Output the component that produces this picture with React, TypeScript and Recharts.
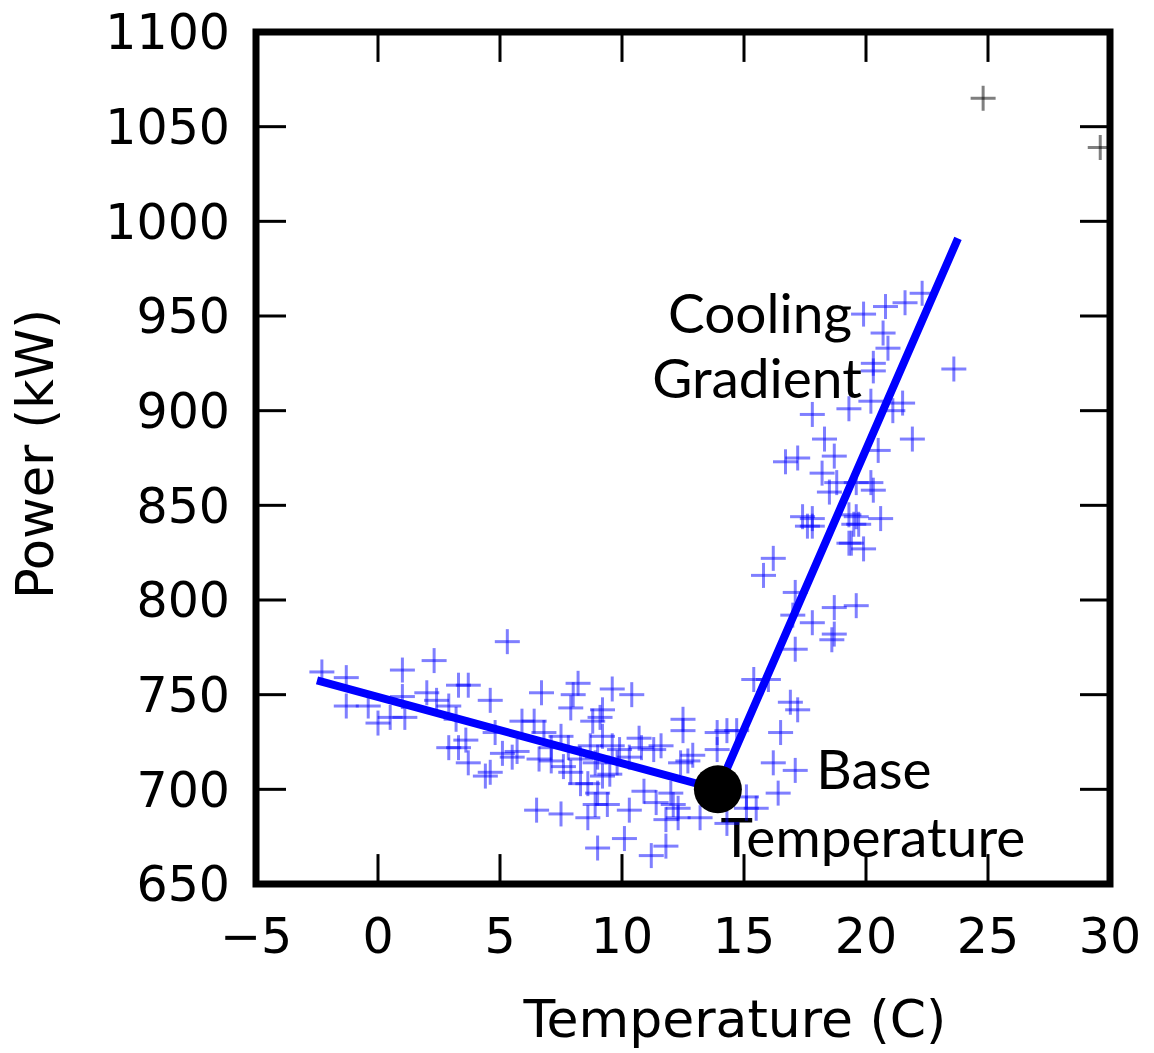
import {
  ScatterChart,
  Scatter,
  XAxis,
  YAxis,
  ReferenceArea,
  ReferenceLine,
  Customized,
} from "recharts";

// temperature (C), power (kW)
const bluePoints: [number, number][] = [
  [-2.3, 762], [-1.3, 759], [-1.3, 744], [-0.4, 744], [0, 735], [0.5, 738],
  [1, 763], [1, 749], [1.1, 738], [2.3, 768], [2.0, 751], [2.4, 747],
  [3.3, 755], [3.7, 755], [2.9, 744], [3.2, 737], [4.6, 747], [2.9, 722],
  [3.3, 722], [3.6, 726], [3.7, 714], [4.4, 707], [4.6, 709], [4.8, 730],
  [5.1, 719], [5.3, 778],
  [6.7, 751], [8.2, 756], [8.0, 750], [7.9, 743], [9.6, 753], [10.4, 750],
  [5.7, 720], [5.9, 736], [6.4, 736], [5.5, 717], [6.8, 730], [7.1, 722],
  [7.5, 728], [7.8, 722], [7.9, 709], [8.3, 716], [8.8, 736], [9.1, 738],
  [9.2, 742], [8.7, 723], [9.2, 728], [9.6, 723], [8.9, 714], [9.2, 707],
  [9.5, 708], [8.6, 703], [8.9, 692], [9.4, 692], [9.0, 698], [10.3, 689],
  [6.5, 689], [7.5, 687], [8.6, 685], [9.0, 669], [10.1, 674], [11.2, 665],
  [11.8, 670], [10.9, 699], [10.8, 722], [11.3, 721], [11.6, 723], [10.7, 727],
  [9.9, 721], [10.3, 717], [12.4, 714], [12.7, 715], [12.5, 737], [12.5, 731],
  [12.9, 718], [12.0, 698], [12.1, 692], [12.3, 690], [11.8, 684], [12.3, 685],
  [13.2, 685], [11.4, 693], [13.9, 730], [14.3, 731], [14.7, 731], [13.9, 721],
  [14.3, 682], [6.6, 716], [7.1, 715], [7.6, 712], [8.3, 703], [9.0, 717],
  [9.8, 714],
  [16.2, 822], [15.8, 813], [17.1, 804], [17.0, 792], [17.8, 788], [18.7, 796],
  [19.6, 797], [18.7, 782], [18.6, 779], [17.1, 774], [15.4, 758], [16.0, 758],
  [16.9, 746], [17.2, 742], [16.5, 730], [16.2, 714], [17.1, 710], [16.4, 698],
  [15.1, 696], [15.5, 690], [15.1, 690], [19.3, 830], [19.9, 827], [17.6, 839],
  [17.8, 839], [19.7, 840],
  [22.3, 962], [21.6, 957], [20.8, 955], [19.9, 951], [20.7, 941], [20.9, 933],
  [20.3, 925], [20.3, 921], [23.6, 922], [20.2, 905], [21.5, 904], [21.1, 900],
  [19.3, 901], [17.8, 898], [21.9, 885], [18.3, 885], [18.7, 876], [20.5, 879],
  [17.2, 875], [16.7, 873], [18.2, 867], [18.8, 862], [19.6, 862], [20.2, 862],
  [18.5, 857], [20.3, 858], [17.4, 844], [17.8, 843], [19.6, 844], [20.6, 843],
  [19.5, 840], [19.4, 830], [19.3, 845],
];

const greyPoints: [number, number][] = [
  [24.8, 1065],
  [29.6, 1039],
];

// fitted change-point model
const fitLine: [number, number][] = [
  [-2.5, 757.5],
  [13.93, 700],
  [23.77, 991],
];
const baseTemp: [number, number][] = [[13.93, 700]];

const xTicks = [-5, 0, 5, 10, 15, 20, 25, 30];
const yTicks = [650, 700, 750, 800, 850, 900, 950, 1000, 1050, 1100];

const X_MIN = -5;
const X_MAX = 30;
const Y_MIN = 650;
const Y_MAX = 1100;

// inward tick length (~30px) in data units
const xTickLen = 1.23;
const yTickLen = 15.8;

const toXY = (pts: [number, number][]) => pts.map(([x, y]) => ({ x, y }));

const tickFont = { fill: "#000", fontSize: 49, fontFamily: "DejaVu Sans" };
const annoFont = { fontSize: 55, fontFamily: "Lato", fill: "#000" };

const fmt = (v: number) => (v < 0 ? `\u2212${-v}` : `${v}`);

const Plus = ({ cx, cy, color }: any) => (
  <g stroke={color} strokeWidth={3} strokeOpacity={0.5}>
    <line x1={cx - 12.5} y1={cy} x2={cx + 12.5} y2={cy} />
    <line x1={cx} y1={cy - 12.5} x2={cx} y2={cy + 12.5} />
  </g>
);

const Labels = () => (
  <g>
    <text x={760} y={333} textAnchor="middle" {...annoFont}>Cooling</text>
    <text x={757} y={398} textAnchor="middle" {...annoFont}>Gradient</text>
    <text x={874} y={789} textAnchor="middle" {...annoFont}>Base</text>
    <text x={873} y={857} textAnchor="middle" {...annoFont}>Temperature</text>
    <text x={735} y={1037} textAnchor="middle" fontSize={52} fontFamily="DejaVu Sans">
      Temperature (C)
    </text>
    <text
      x={53}
      y={454}
      textAnchor="middle"
      fontSize={51}
      fontFamily="DejaVu Sans"
      transform="rotate(-90 53 454)"
    >
      Power (kW)
    </text>
  </g>
);

const tickStyle = { stroke: "#000", strokeWidth: 3 };

export default function App() {
  return (
    <div style={{ position: "absolute", left: 0, top: 0, background: "#fff" }}>
      <ScatterChart
        width={1154}
        height={1053}
        margin={{ top: 32, right: 44, bottom: 0, left: 0 }}
      >
        <XAxis
          type="number"
          dataKey="x"
          domain={[X_MIN, X_MAX]}
          ticks={xTicks}
          allowDataOverflow
          height={169}
          axisLine={false}
          tickLine={false}
          tickSize={0}
          tickMargin={34}
          tick={tickFont}
          tickFormatter={fmt}
        />
        <YAxis
          type="number"
          dataKey="y"
          domain={[Y_MIN, Y_MAX]}
          ticks={yTicks}
          allowDataOverflow
          width={256}
          axisLine={false}
          tickLine={false}
          tickSize={0}
          tickMargin={26}
          tick={tickFont}
        />
        {/* inward tick marks on all four sides */}
        {xTicks.map((t) => (
          <ReferenceLine
            key={`xb${t}`}
            segment={[{ x: t, y: Y_MIN }, { x: t, y: Y_MIN + yTickLen }]}
            {...tickStyle}
          />
        ))}
        {xTicks.map((t) => (
          <ReferenceLine
            key={`xt${t}`}
            segment={[{ x: t, y: Y_MAX }, { x: t, y: Y_MAX - yTickLen }]}
            {...tickStyle}
          />
        ))}
        {yTicks.map((t) => (
          <ReferenceLine
            key={`yl${t}`}
            segment={[{ x: X_MIN, y: t }, { x: X_MIN + xTickLen, y: t }]}
            {...tickStyle}
          />
        ))}
        {yTicks.map((t) => (
          <ReferenceLine
            key={`yr${t}`}
            segment={[{ x: X_MAX, y: t }, { x: X_MAX - xTickLen, y: t }]}
            {...tickStyle}
          />
        ))}
        <Scatter
          data={toXY(bluePoints)}
          shape={(p: any) => <Plus {...p} color="#0000ff" />}
          isAnimationActive={false}
        />
        <Scatter
          data={toXY(greyPoints)}
          shape={(p: any) => <Plus {...p} color="#000000" />}
          isAnimationActive={false}
        />
        <Scatter
          data={toXY(fitLine)}
          line={{ stroke: "#0000ff", strokeWidth: 8 }}
          shape={() => <g />}
          isAnimationActive={false}
        />
        <Scatter
          data={toXY(baseTemp)}
          shape={(p: any) => <circle cx={p.cx} cy={p.cy} r={24} fill="#000" />}
          isAnimationActive={false}
        />
        <ReferenceArea
          x1={X_MIN}
          x2={X_MAX}
          y1={Y_MIN}
          y2={Y_MAX}
          fill="none"
          stroke="#000"
          strokeWidth={7}
          ifOverflow="visible"
        />
        <Customized component={Labels} />
      </ScatterChart>
    </div>
  );
}
